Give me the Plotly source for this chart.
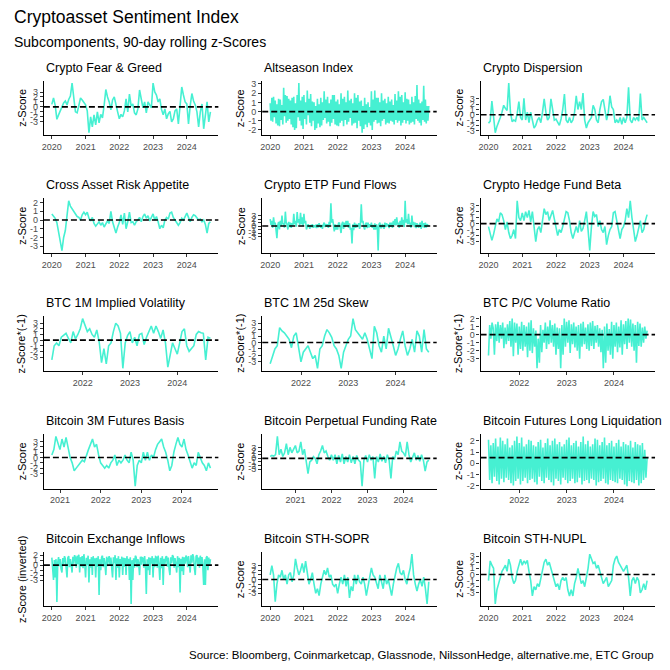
import pandas as pd
import plotly.graph_objects as go

TITLE = "Cryptoasset Sentiment Index"
SUBTITLE = "Subcomponents, 90-day rolling z-Scores"
SOURCE = "Source: Bloomberg, Coinmarketcap, Glassnode, NilssonHedge, alternative.me, ETC Group"

panel_titles = [
    "Crypto Fear & Greed", "Altseason Index", "Crypto Dispersion",
    "Cross Asset Risk Appetite", "Crypto ETP Fund Flows", "Crypto Hedge Fund Beta",
    "BTC 1M Implied Volatility", "BTC 1M 25d Skew", "BTC P/C Volume Ratio",
    "Bitcoin 3M Futures Basis", "Bitcoin Perpetual Funding Rate", "Bitcoin Futures Long Liquidation Dominance",
    "Bitcoin Exchange Inflows", "Bitcoin STH-SOPR", "Bitcoin STH-NUPL",
]
y_titles = ["z-Score"] * 6 + ["z-Score*(-1)"] * 3 + ["z-Score"] * 3 + ["z-Score (inverted)", "z-Score", "z-Score"]
start_dates = ["2020-01-01"] * 6 + ["2021-05-08"] * 3 + ["2020-10-19", "2020-04-20", "2021-05-08"] + ["2020-01-01"] * 3
end_date = "2024-09-13"
ref_levels = [0, 0, 0, 0, 0, 0, 0, 0, 0, 0, 0, 0.5, 0, 0, 0]
year_ticks = [2020, 2021, 2022, 2023, 2024]
y_breaks = [-3, -2, -1, 0, 1, 2, 3]

fear_greed = [
    0.5, 1.8, 0.3, -2.5, -1.6, -0.8, -0.2, 0.8, 1.2, 0.4,
    1.5, 2.2, 4.8, 1.8, -1.0, -1.2, 0.3, 1.8, 1.4, 0.8,
    0.4, -0.8, -5.2, -2.0, -4.0, -1.6, -3.6, -1.0, -3.2, -1.5,
    -2.2, 0.3, 3.5, 2.0, 1.0, -0.6, 1.4, 2.0, 0.2, -1.0,
    -2.4, -1.5, -2.0, -0.8, 1.6, -1.0, 2.6, 0.2, 0.6, -1.2,
    -1.6, -0.4, 3.4, 1.4, -0.2, 1.0, -1.2, 1.0, 0.4, -0.2,
    4.8, 3.0, 2.4, 1.0, 1.6, -0.5, -1.6, -0.4, -2.4, -1.4,
    -0.9, -3.0, -2.4, -0.8, -0.4, -3.4, 0.2, 4.0, 2.4, 1.0,
    0.6, -3.4, 0.2, 2.7, 1.2, 0.4, -1.0, -4.0, -1.0, 0.6,
    -4.4, -1.0, 1.0, -3.0, -1.0,
]

altseason = [
    0.9, -1.0, 1.5, -1.1, 1.6, -0.6, 1.2, -1.3, 0.8, -1.5, 1.4, -1.6, 1.3, -0.9, 0.7, -1.4,
    2.6, -0.5, 1.8, -1.2, 1.7, -1.0, 1.4, -0.8, 1.2, -1.4, 1.5, -1.7, 1.6, -2.0, 0.9, -1.8,
    1.8, -0.6, 3.1, -1.0, 1.2, -1.5, 1.6, -1.9,
    1.8, -0.8, 1.0, -1.4, 2.3, -0.4, 1.4, -1.2, 1.9, -1.6, 1.1, -1.0, 1.0, -2.0, 0.6, -1.8,
    1.4, -1.3, 0.8, -1.7, 1.5, -1.5, 1.0, -0.9, 2.2, -0.7, 1.3, -1.3, 1.6, -1.1, 0.9, -1.6,
    1.3, -1.2, 1.8, -0.8, 1.8, -1.4, 1.1, -1.5,
    1.3, -1.6, 0.8, -1.2, 2.0, -1.0, 1.4, -1.6, 1.6, -0.9, 1.0, -1.4, 2.3, -1.1, 1.2, -0.7,
    1.4, -1.5, 0.9, -1.3, 2.0, -1.2, 1.5, -1.8, 1.8, -1.0, 1.1, -1.6, 1.2, -2.3, 0.6, -1.9,
    1.5, -1.4, 0.8, -1.7, 1.0, -1.2, 0.5, -1.5,
    2.2, -2.0, 1.3, -1.1, 2.3, -0.9, 1.5, -1.3, 1.5, -1.2, 1.0, -1.6, 2.0, -1.0, 1.2, -0.8,
    1.4, -1.4, 0.9, -1.2, 1.6, -1.3, 1.1, -1.0, 1.3, -1.1, 0.7, -1.4, 1.9, -0.9, 1.2, -1.2,
    2.2, -1.0, 1.6, -1.5, 1.8, -1.2, 1.0, -0.9,
    2.1, -1.3, 1.4, -1.0, 1.3, -1.4, 0.8, -1.2, 1.6, -1.1, 1.0, -1.4, 1.7, -0.8, 2.9, -1.0,
    1.3, -1.2, 0.9, -1.5, 1.1, -0.9, 2.8, -1.1, 1.3, -1.3, 0.6, -1.0,
    0.6,
]

crypto_dispersion = [
    -1.6, -1.2, 2.6, -0.8, -3.4, -2.2, -1.5, -0.5, 0.5, 1.8,
    1.2, 0.8, 6.0, 0.5, -1.3, -1.0, -1.2, 0.2, 2.5, -0.5,
    -1.0, 3.1, -1.0, 0.5, -1.5, 0.5, -1.0, -2.5, -2.0, -1.0,
    -0.5, -1.5, 0.5, 3.0, 0.5, -1.0, -0.5, 3.0, 1.0, -1.0,
    -0.8, -1.3, -2.0, -0.8, 1.0, 3.9, -1.0, -1.5, -0.5, -1.5,
    -1.0, 0.5, 3.6, 1.0, 2.5, 1.0, 4.1, -1.0, -2.5, -1.5,
    -1.0, -0.5, 1.8, 1.0, -1.0, -1.5, 1.0, 2.5, 2.9, 1.0,
    -1.0, 0.5, 3.6, 1.5, 1.0, -1.5, -1.0, -1.5, -0.5, -1.8,
    -0.5, -1.5, -0.5, 5.2, -1.0, -1.5, -0.5, -1.0, -0.5, -1.2,
    4.0, -1.0, -0.5, -1.0, -1.5,
]

cross_asset = [
    0.7, 0.4, 0.2, -0.3, -1.5, -2.8, -3.5, -2.0, -1.2, 0.5,
    2.2, 1.6, 1.3, 1.0, 0.8, 0.4, 0.3, 0.0, 0.6, 0.9,
    0.6, 0.9, 0.2, -0.1, 0.3, -0.4, -0.7, -0.5, -0.2, -0.6,
    -0.3, -0.8, -0.5, -0.1, -0.4, 1.0, -0.2, -0.8, -1.5, -0.8,
    -0.3, 0.6, -0.5, 0.8, -1.0, -0.2, 0.9, -0.3, -0.2, -0.6,
    -0.2, 0.0, 0.3, -0.2, 0.4, 0.7, 0.2, 0.5, -0.1, 0.3,
    0.7, 0.0, 0.4, -0.2, -1.0, -0.6, -0.9, 0.0, 0.3, 0.1,
    0.8, 0.9, 0.3, 0.0, -0.3, -0.6, -0.3, 0.2, 0.0, 0.5,
    0.8, 0.3, -0.2, 0.3, 0.6, 0.5, 0.2, 0.0, 0.1, -0.2,
    0.0, -0.5, -1.5, -0.4, -0.2,
]

etp_flows = [
    2.0, 0.3, 1.5, -0.5, 2.5, 0.5, 1.0, -0.8, -3.5, 0.2, 1.2, -1.0, 1.5, 0.0, 3.0, 0.5,
    0.8, -0.5, 4.1, 1.0, 0.5, -1.0, 1.2, -0.3, 1.0, -0.5, 0.8, 0.2, 3.5, 0.5, 1.5, -0.2,
    4.0, 1.0, 2.0, 0.3, 3.8, 0.5, 2.5, 0.0,
    3.5, 0.8, 1.5, -1.0, -0.5, 0.5, 0.0, -0.8, 0.3, -0.3, 0.5, -0.5, 0.2, -0.3, 0.4, -0.6,
    0.5, -0.4, 0.8, -0.2, -0.5, 0.3, -0.8, 0.4, 1.0, -0.3, 0.6, 0.0, 0.5, -0.5, 1.2, 0.2,
    6.5, 1.0, 2.0, 0.5, -1.5, 0.5, -1.0, 0.3,
    -1.0, 0.8, 1.0, -0.5, -2.0, 0.5, 1.2, -0.8, 1.0, -0.3, 1.5, 0.2, 1.5, -0.5, 0.8, -1.0,
    -0.5, -5.0, 0.5, -1.2, 1.0, -0.5, 0.6, -0.2, 0.0, 0.8, -0.8, 0.5, 6.2, 1.0, 1.5, -0.3,
    -1.0, 0.5, 1.0, -0.6, 1.0, -0.4, 0.5, -0.2,
    1.0, -0.5, 0.3, -1.0, 0.8, -1.0, 0.5, -0.3, -7.0, 0.5, 1.0, -0.5, -0.5, 0.6, 0.0, -0.8,
    1.0, -0.3, 0.8, 0.0, 0.5, -0.6, 1.0, -0.2, 1.0, -0.5, 1.5, 0.3, 2.0, 0.2, 2.5, 0.5,
    1.0, -0.5, 1.5, 0.0, 2.5, 0.3, 1.8, -0.3,
    7.2, 1.0, 2.0, 0.5, 3.5, 0.5, 1.0, -0.5, 3.0, 0.3, 1.2, -0.3, 1.0, -0.6, 0.8, -0.2,
    -0.5, 0.5, 1.0, -0.8, 1.5, -0.3, 0.8, -0.5, 1.0, -0.4, 0.5, 0.2,
    0.0,
]

hedge_fund_beta = [
    -0.5, -1.5, -2.8, -1.8, -0.5, 0.8, 0.3, 1.8, 1.5, 0.5,
    -1.0, 0.3, -1.5, -2.5, -2.0, -1.0, -2.5, 3.8, 1.0, 0.5,
    1.8, 0.5, 2.0, 1.0, 2.2, 0.3, 2.0, -1.0, -3.0, -1.0,
    -0.5, -1.5, 0.5, 2.5, 1.5, 2.0, 0.5, 1.2, 2.2, 0.8,
    -0.5, -2.0, -1.0, -1.5, -0.5, 1.0, 2.0, 1.8, 0.5, -1.5,
    -2.5, -1.5, -0.5, -1.5, 0.5, -1.3, -0.8, 0.5, 2.0, -1.0,
    -4.5, -0.5, 2.0, 1.2, 1.5, -0.5, 0.5, -1.0, -1.5, -0.5,
    -3.5, -2.0, -1.0, -0.5, 1.8, 2.0, 0.5, -1.0, -2.5, -1.0,
    -0.5, 0.5, 2.5, 1.0, 3.8, 1.0, -1.0, -3.0, -2.0, -0.5,
    0.5, -1.5, -1.0, 0.5, 1.5,
]

btc_implied_vol = [
    -3.5, -1.0, -0.5, -1.0, 0.5, 0.8, 1.2, 0.3, -0.5, 1.5,
    0.2, 1.0, 2.0, 3.8, 2.5, 1.5, 2.0, 1.0, 0.5, 1.8,
    -0.3, -4.0, -1.5, -4.2, -1.0, -0.5, 1.5, 3.0, 2.5, 1.2,
    -5.0, -0.5, 0.8, 1.5, -0.5, 0.5, -1.0, 1.0, 1.2, -0.8,
    0.5, 1.5, 2.5, 1.2, 2.5, 1.5, 0.3, 1.8, -0.5, -4.8,
    -2.5, -0.5, -1.5, -2.5, -0.5, 1.5, 2.0, -1.0, -2.0, -1.5,
    -1.0, 1.0, 1.5, 1.3, 1.2, -3.5, 0.5, 0.3,
]

btc_skew = [
    -3.3, -2.0, -1.0, -0.5, 2.3, 1.8, 1.5, 1.0, 0.5, -0.8,
    1.0, 1.5, -1.0, -3.0, -1.5, -1.0, -0.5, -1.5, -2.5, -2.0,
    -4.0, -1.0, -0.5, 1.0, 2.0, 1.5, 0.8, -0.5, -1.0, -2.0,
    -4.0, -1.5, -0.5, 0.5, 1.0, 3.7, 2.0, 1.5, 1.0, 0.5,
    1.5, 0.5, -1.0, -2.5, 2.5, 1.5, -0.5, -1.5, 1.0, -1.0,
    2.2, 1.0, -0.5, -2.0, -1.0, 0.5, 1.8, -0.5, -2.0, -1.0,
    0.5, -1.5, 1.8, 1.0, -1.5, 2.0, -1.0, -1.5,
]

btc_pc_ratio = [
    -2.6, 1.2, -0.5, 1.5, 0.8, -2.5, 1.3, -0.8, 1.6, -1.0, 1.2, -0.5, 1.5, -1.7, 0.9, -1.2,
    1.3, -0.8, 1.7, -1.5, 2.0, -2.7, 1.5, -1.0, 1.4, -2.5, 1.0, -1.8, 1.6, -2.0, 1.2, -1.5,
    1.0, -2.8, 1.5, -2.0, 1.8, -2.3, 0.8, -1.5, 0.5, -4.2, -0.5, -3.5, 1.2, -2.2, 0.6, -1.0,
    1.5, -1.8, 1.0, -1.2, 1.8, -1.0, 1.2, -1.5, 1.4, -2.5, 0.9, -1.8, 0.8, -4.2, 1.2, -2.5,
    2.0, -1.5, 1.6, -1.0, 1.8, -2.3, 1.3, -1.2, 1.5, -1.6, 1.0, -2.0, 1.2, -3.0, 1.4, -1.5,
    1.6, -1.2, 0.9, -1.8, 1.3, -2.0, 1.5, -1.4, 1.7, -1.8, 1.1, -1.0, 1.2, -1.5, 0.8, -2.2,
    0.6, -4.2, 1.0, -3.5, 1.4, -2.0, 0.7, -2.5, 1.6, -3.0, 1.2, -1.5, 1.5, -2.2, 1.0, -1.6,
    1.8, -2.5, 1.3, -1.2, 1.7, -1.8, 2.0, -1.0, 1.9, -1.5, 1.4, -2.0, 1.2, -3.5, 1.6, -1.4,
    1.4, -1.5, 0.9, -1.0, 1.0, -0.5, 0.5,
]

basis_3m = [
    0.5, 1.5, 4.0, 2.5, 1.5, 3.5, 2.0, 3.8, 1.5, 0.0,
    -1.0, -2.5, -2.0, -1.5, -1.0, -0.5, -0.8, 0.5, 1.5, 2.5,
    3.5, 2.0, 2.5, 0.5, -1.0, -1.5, -2.0, -1.5, -2.0, -1.0,
    -0.5, 0.5, -1.5, -0.5, -1.0, -0.5, 0.5, -0.5, -1.0, 1.0,
    -0.5, -5.4, -1.5, -0.5, -1.0, 1.0, -0.5, 1.0, -0.5, 0.5,
    0.0, 1.5, 2.5, 3.0, 3.5, 2.0, 1.0, -0.5, -2.5, -1.5,
    1.0, 2.5, 3.8, 2.5, 2.0, 3.5, 1.5, 0.5, -1.0, -2.0,
    -1.0, -1.5, 1.0, 0.0, -1.0, -1.5, -2.5, -1.0, -2.0,
]

perp_funding = [
    0.5, 0.8, 0.6, 1.0, 6.0, 1.0, 2.5, 0.5, 1.5, 4.0,
    1.0, 3.0, 1.5, 2.5, 3.5, 1.5, 2.0, 4.5, 1.0, 2.5,
    -1.0, -4.2, -1.0, -0.5, 0.5, 0.0, -1.5, 1.0, 2.0, 3.5,
    1.5, 2.0, 0.5, -0.5, 1.0, -0.5, 1.0, -1.5, 0.8, -1.0,
    1.2, -1.5, 0.5, -1.0, 1.0, -1.2, 0.5, -1.5, 0.8, -0.5,
    -1.0, -7.6, -0.5, 0.8, -1.0, 1.0, -0.5, 0.5, -5.5, 0.5,
    -1.0, 1.2, -0.8, 0.6, -1.2, 1.0, -0.5, -5.5, 0.5, -0.3,
    2.0, 1.0, 4.5, 2.0, 1.5, 0.5, 4.5, 1.0, -1.0, 0.5,
    1.5, -0.5, 0.8, -0.8, 1.0, -0.5, -3.5, -1.0, -0.5,
]

long_liquidation = [
    2.1, -1.5, 1.6, -1.8, 1.8, -1.2, 2.2, -1.6, 1.5, -1.9, 2.3, -1.4, 2.0, -1.7, 1.7, -1.3,
    2.2, -1.5, 1.4, -1.8, 1.6, -2.0, 2.0, -1.6, 2.4, -1.4, 1.8, -1.9, 2.3, -1.6, 1.5, -1.3,
    1.7, -1.8, 2.1, -1.5, 2.0, -1.4, 1.6, -1.7, 1.5, -1.9, 1.9, -1.2, 2.1, -1.6, 1.4, -1.8,
    1.8, -1.3, 2.2, -1.5, 1.6, -1.7, 2.0, -2.0, 2.2, -1.4, 1.7, -1.6, 1.9, -1.9, 1.5, -1.3,
    1.7, -1.5, 2.1, -1.8, 2.3, -1.6, 1.6, -1.4, 1.8, -1.8, 2.0, -1.7, 1.5, -1.3, 1.9, -1.9,
    2.4, -1.6, 1.7, -1.5, 2.0, -1.8, 1.5, -1.4, 1.7, -1.5, 2.2, -2.0, 2.1, -1.7, 1.6, -1.6,
    1.9, -1.4, 2.3, -1.8, 1.6, -1.9, 1.8, -1.5, 2.0, -1.6, 1.5, -1.7, 1.8, -1.8, 2.1, -1.4,
    1.5, -1.5, 1.9, -1.9, 1.7, -2.05, 1.6, -1.6, 2.0, -1.7, 1.4, -1.8, 1.9, -1.5, 1.7, -2.0,
    1.6, -1.8, 1.8, -1.5, 1.2, -1.3, 0.5,
]

exchange_inflows = [
    1.5, -0.5, -3.0, 1.0, -2.5, 1.2, -7.4, 0.5, 1.6, -0.2, 1.2, -0.8, -1.5, 1.4, 0.2, 1.8,
    1.3, -0.6, -2.5, 1.5, 1.8, -0.4, 1.2, 0.0, -1.5, 1.7, 0.3, 2.0, 1.5, -0.5, 1.9, 0.2,
    2.1, -1.5, 1.6, -0.3, 1.8, -0.6, 2.2, 0.4,
    -2.5, 1.5, 0.0, 1.9, -3.5, 1.2, -0.5, 1.6, -2.0, 1.8, 0.3, 1.4, -2.5, 1.5, -0.3, 1.8,
    -6.0, 1.2, -1.0, 1.6, 1.9, -0.4, 1.4, 0.2, -2.0, 1.7, -0.2, 1.3, 1.8, 0.0, 1.5, -0.6,
    -2.5, 1.6, 0.4, 2.0, -3.0, 1.4, -0.5, 1.8,
    -2.5, 1.2, 0.2, 1.7, -2.0, 1.5, -0.3, 1.4, -2.0, 1.8, 0.0, 1.3, -3.0, 1.6, -7.8, 1.0,
    -3.0, 1.4, -0.5, 1.9, 1.6, -0.4, 1.2, 0.3, -2.0, 1.7, 0.1, 1.5, 1.4, -0.5, 1.8, -0.2,
    -5.8, 1.2, -1.0, 1.6, -2.0, 1.5, 0.3, 1.8,
    -2.5, 1.4, -0.4, 1.7, 1.6, -0.5, 1.9, 0.0, -3.0, 1.5, -0.6, 1.8, -4.0, 1.3, 0.2, 1.6,
    1.8, -0.3, 1.5, -0.8, -2.0, 1.6, 0.4, 2.0, 1.7, -0.5, 1.4, 0.1, -1.5, 1.8, -0.4, 1.5,
    -5.5, 1.3, -1.2, 1.7, -2.0, 1.6, 0.3, 1.9,
    1.5, -0.4, 1.8, 0.2, -1.5, 2.0, 0.5, 2.2, 1.6, -0.6, -2.0, 1.8, 2.0, 0.2, 1.5, -0.5,
    1.9, 0.0, 1.6, -0.4, -4.0, 1.2, -4.0, 1.5, 1.8, -1.0, 1.5, 0.0,
    1.2,
]

sth_sopr = [
    1.0, 3.0, 1.0, -4.8, -1.0, 1.0, 0.5, 2.0, 0.0, 1.0,
    -1.0, 1.0, 1.5, -0.5, 1.0, 4.5, 2.5, 1.0, 2.0, 3.5,
    1.5, 4.0, 1.5, -1.0, 0.0, 1.5, -1.0, -3.0, -2.0, -3.5,
    -1.0, 0.5, 2.0, 1.0, 2.5, 0.5, 1.0, -1.0, -1.5, -1.0,
    -3.0, -1.0, 0.5, -1.0, 1.0, -1.5, 0.5, -4.0, -1.5, -2.5,
    1.0, -1.0, 1.0, -0.5, -1.0, 0.5, -1.0, -3.5, -1.0, 0.5,
    2.5, 1.0, 0.5, -1.0, -2.0, 1.0, -0.5, -2.0, 1.0, -1.0,
    0.0, -1.5, -3.5, -1.0, 1.0, 2.5, 3.5, 1.5, 1.0, 2.0,
    0.0, -1.0, 1.0, 2.5, 5.5, 1.0, -1.0, -2.5, -1.0, 0.0,
    -1.5, 0.5, -2.0, -5.3, -0.5,
]

sth_nupl = [
    -1.0, 2.2, 1.5, 1.0, -4.8, -2.5, -1.5, -0.5, 0.5, 1.0,
    1.5, 0.5, 2.5, 1.5, -0.5, -1.5, -1.0, 0.5, 1.5, 2.5,
    1.5, 2.2, 1.8, 2.3, 0.5, -1.0, -3.5, -2.0, -2.5, -1.5,
    -2.0, -0.5, 1.0, 2.0, 2.5, 1.5, 2.0, 1.0, 0.0, -1.0,
    -2.0, -1.5, -2.5, -1.0, -0.5, -1.0, -0.5, -2.5, -3.5, -2.5,
    -3.5, -1.5, -0.5, 1.0, -0.5, -1.5, -1.0, -2.0, -0.5, 1.0,
    3.3, 2.5, 1.8, 2.0, 1.0, 1.5, 0.5, -0.5, -1.5, -1.0,
    -0.5, -2.0, -1.5, -1.0, 1.5, 2.5, 3.0, 2.0, 1.5, 1.0,
    0.5, 1.0, 1.5, -0.5, -3.5, -1.0, -0.5, -1.5, -0.5, -1.0,
    -3.0, -2.5, -1.5, -2.5, -1.0,
]

series_values = [
    fear_greed, altseason, crypto_dispersion,
    cross_asset, etp_flows, hedge_fund_beta,
    btc_implied_vol, btc_skew, btc_pc_ratio,
    basis_3m, perp_funding, long_liquidation,
    exchange_inflows, sth_sopr, sth_nupl,
]

# ---- styling / layout ----
# The page body has an 8px margin, so the figure is sized to fill the rest of the window
OFF = 8
W, H = 670 - OFF, 670 - OFF
LINE_COLOR = "#46F0D2"
FONT = "Liberation Sans, Arial, sans-serif"
col_left = [42, 261, 480]
panel_w = 175
row_top = [79 + 118.5 * r for r in range(5)]
panel_h = 55


def px(x):
    return (x - OFF) / W


def py(y):
    return 1 - (y - OFF) / H


fig = go.Figure()
layout = dict(
    width=W, height=H, autosize=False,
    margin=dict(l=0, r=0, t=0, b=0),
    paper_bgcolor="white", plot_bgcolor="white",
    showlegend=False,
    font=dict(family=FONT, color="black"),
)
shapes = []
annotations = []

for i, vals in enumerate(series_values):
    r, c = divmod(i, 3)
    n = "" if i == 0 else str(i + 1)
    dates = pd.date_range(start_dates[i], end_date, periods=len(vals))
    span = dates[-1] - dates[0]
    xr = [dates[0] - span * 0.05, dates[-1] + span * 0.05]
    ymin, ymax = min(vals), max(vals)
    ys = ymax - ymin
    yr = [ymin - 0.05 * ys, ymax + 0.05 * ys]

    fig.add_trace(go.Scatter(
        x=dates, y=vals, mode="lines",
        line=dict(color=LINE_COLOR, width=1.6),
        xaxis="x" + n, yaxis="y" + n, hoverinfo="skip",
    ))

    x0 = px(col_left[c])
    x1 = px(col_left[c] + panel_w)
    ytop = py(row_top[r])
    ybot = py(row_top[r] + panel_h)

    tv = [pd.Timestamp(f"{y}-01-01") for y in year_ticks
          if xr[0] <= pd.Timestamp(f"{y}-01-01") <= xr[1]]
    tt = [str(t.year) for t in tv]
    yv = [b for b in y_breaks if yr[0] <= b <= yr[1]]

    axis_common = dict(
        showline=True, linecolor="black", linewidth=1.2,
        ticks="outside", ticklen=3, tickwidth=1, tickcolor="#333",
        showgrid=False, zeroline=False, fixedrange=True,
        tickfont=dict(size=9, color="#4d4d4d", family=FONT),
    )
    layout["xaxis" + n] = dict(
        domain=[x0, x1], range=xr, anchor="y" + n, type="date",
        tickvals=tv, ticktext=tt, **axis_common,
    )
    layout["yaxis" + n] = dict(
        domain=[ybot, ytop], range=yr, anchor="x" + n,
        tickvals=yv, ticktext=[str(v) for v in yv], **axis_common,
    )

    shapes.append(dict(
        type="line", xref=f"x{n} domain", x0=0, x1=1,
        yref="y" + n, y0=ref_levels[i], y1=ref_levels[i],
        line=dict(color="black", width=1.6, dash="6px,3px"),
    ))

    annotations.append(dict(
        text=panel_titles[i], xref="paper", yref="paper",
        x=x0, y=py(row_top[r] - 13),
        xanchor="left", yanchor="middle", showarrow=False,
        font=dict(size=12.5, color="black", family=FONT),
    ))
    annotations.append(dict(
        text=y_titles[i], xref="paper", yref="paper",
        x=px(col_left[c] - 22), y=py(row_top[r] + panel_h / 2),
        xanchor="center", yanchor="middle", textangle=-90, showarrow=False,
        font=dict(size=11, color="black", family=FONT),
    ))

annotations += [
    dict(text=TITLE, xref="paper", yref="paper", x=px(10), y=py(15),
         xanchor="left", yanchor="middle", showarrow=False,
         font=dict(size=17.5, color="black", family=FONT)),
    dict(text=SUBTITLE, xref="paper", yref="paper", x=px(10), y=py(40),
         xanchor="left", yanchor="middle", showarrow=False,
         font=dict(size=14, color="black", family=FONT)),
    dict(text=SOURCE, xref="paper", yref="paper", x=px(656), y=py(657),
         xanchor="right", yanchor="middle", showarrow=False,
         font=dict(size=11.5, color="black", family=FONT)),
]

layout["shapes"] = shapes
layout["annotations"] = annotations
fig.update_layout(**layout)
fig.write_html("out.html")
